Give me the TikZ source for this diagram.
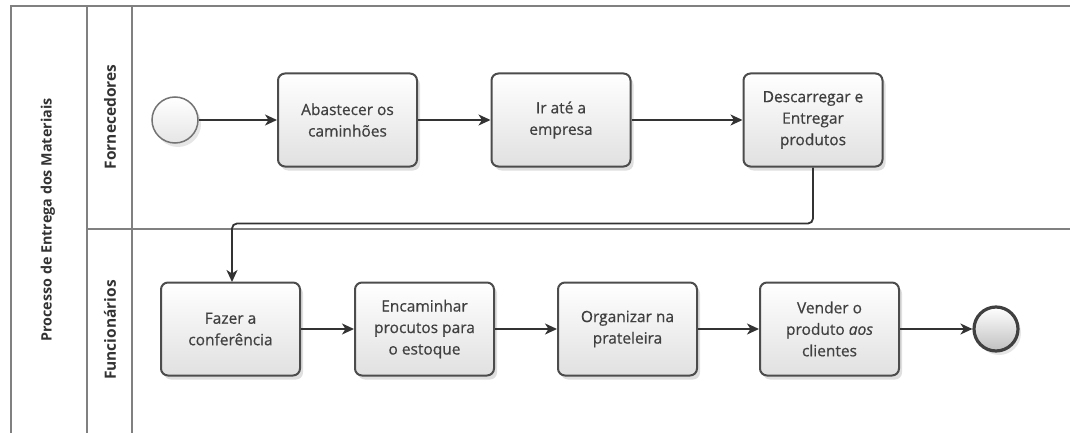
\documentclass[tikz,border=0pt]{standalone}
\usepackage{fontspec}
\setmainfont{Open Sans}
\newfontfamily\taskfont[FakeBold=0.6]{Open Sans}
\usetikzlibrary{arrows.meta,shadows}
\begin{document}
\begin{tikzpicture}[x=1pt,y=-1pt,
  lane/.style={draw=black!50,line width=2pt},
  task/.style={draw=black!70,line width=2pt,rounded corners=7pt,
    top color=white,bottom color=black!12,minimum width=139pt,minimum height=93pt,
    align=center,font=\taskfont\fontsize{15.5}{21.5}\selectfont,text=black!75,
    drop shadow={shadow xshift=3pt,shadow yshift=-4pt,opacity=0.25}},
  flow/.style={draw=black!80,line width=1.8pt,-{Stealth[length=12pt,width=11pt,inset=3.5pt]}},
  lanelabel/.style={rotate=90,font=\bfseries\fontsize{15.5}{17}\selectfont,text=black!80}
]
\useasboundingbox (0,0) rectangle (1070,433);
% pool and lanes
\draw[lane] (11,433) -- (11,6) -- (1070,6);
\draw[lane] (87,6) -- (87,433);
\draw[lane] (132,6) -- (132,433);
\draw[lane] (87,229) -- (1070,229);
\node[lanelabel,font=\bfseries\fontsize{14.3}{16}\selectfont] (pool) at (48,220) {Processo de Entrega dos Materiais};
\node[lanelabel] (l1) at (110,117) {Fornecedores};
\node[lanelabel] (l2) at (110,330) {Funcionários};
% events
\node[circle,draw=black!55,line width=1.5pt,minimum size=46pt,inner sep=0pt,
  top color=white,bottom color=black!10,
  drop shadow={shadow xshift=3pt,shadow yshift=-4pt,opacity=0.2}] (start) at (175,120) {};
\node[circle,draw=black!75,line width=3.2pt,minimum size=44pt,inner sep=0pt,
  top color=white,bottom color=black!25,
  drop shadow={shadow xshift=3pt,shadow yshift=-4pt,opacity=0.2}] (end) at (996,329) {};
% tasks
\node[task] (t1) at (347.5,120) {Abastecer os\\caminhões};
\node[task] (t2) at (561,120) {Ir até a\\empresa};
\node[task] (t3) at (813,120) {Descarregar e\\Entregar\\produtos};
\node[task] (t4) at (230.5,329) {Fazer a\\conferência};
\node[task] (t5) at (424.5,329) {Encaminhar\\procutos para\\o estoque};
\node[task] (t6) at (627.5,329) {Organizar na\\prateleira};
\node[task] (t7) at (829.5,329) {Vender o\\produto \textit{aos}\\clientes};
% flows
\draw[flow] (start) -- (t1);
\draw[flow] (t1) -- (t2);
\draw[flow] (t2) -- (t3);
\draw[flow,rounded corners=5pt] (t3.south) -- (813,223.5) -- (232,223.5) -- (232,282);
\draw[flow] (t4) -- (t5);
\draw[flow] (t5) -- (t6);
\draw[flow] (t6) -- (t7);
\draw[flow] (t7) -- (end);
\end{tikzpicture}
\end{document}
